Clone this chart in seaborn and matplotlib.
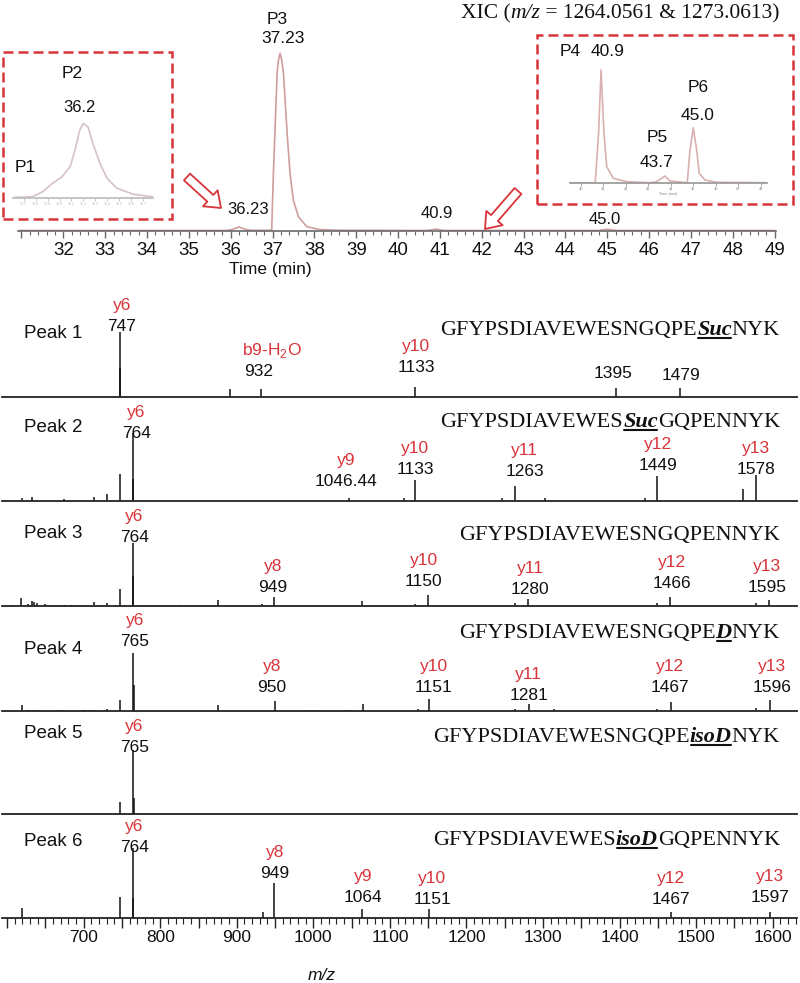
import matplotlib
matplotlib.use("Agg")
import matplotlib.pyplot as plt
import seaborn as sns
from matplotlib.patches import Rectangle, FancyArrowPatch
from matplotlib.lines import Line2D
from matplotlib.ticker import MultipleLocator, FuncFormatter

sns.set_theme(style="white")
plt.rcParams['font.family'] = ['Liberation Sans', 'DejaVu Sans']
plt.rcParams['mathtext.fontset'] = 'custom'
plt.rcParams['mathtext.rm'] = 'Liberation Sans'

# ---- data: extracted ion chromatogram (time in min, relative intensity) ----
xic_time = [30.95, 35.9, 36.05, 36.2, 36.35, 36.5, 36.9, 36.98, 37.02, 37.08, 37.11, 37.14,
            37.18, 37.22, 37.26, 37.31, 37.36, 37.42, 37.50, 37.62, 37.82, 38.13, 38.6,
            40.7, 40.9, 41.1, 44.8, 45.0, 45.2, 49.0]
xic_int = [0.3, 0.3, 0.9, 2.3, 0.9, 0.4, 0.4, 0.6, 32, 70, 89, 96,
           100, 96, 89, 70, 51, 32, 17, 8, 2.4, 0.8, 0.4,
           0.3, 1.1, 0.3, 0.3, 1.0, 0.3, 0.3]

# zoomed trace P1/P2
zoom1_time = [35.62, 35.77, 35.86, 35.93, 36.02, 36.09, 36.13, 36.17, 36.20, 36.24,
              36.28, 36.34, 36.40, 36.48, 36.62, 36.78]
zoom1_int = [0.5, 1.3, 8, 18, 28, 42, 64, 91, 100, 95, 73, 46, 26, 13, 4.6, 1.3]

# zoomed trace P4/P5/P6
zoom2_time = [39.55, 40.64, 40.79, 40.9, 41.03, 41.15, 41.44, 42.04, 43.07, 43.37, 43.74,
              43.96, 44.73, 44.85, 45.0, 45.15, 45.26, 45.52, 46.04, 48.25]
zoom2_int = [0.5, 0.5, 44, 100, 44, 14.7, 4.4, 1.4, 0.5, 1.4, 6.4,
             2.0, 0.5, 29, 49, 29, 8.8, 2.9, 0.9, 0.5]

# ---- data: MS/MS spectra (m/z, intensity) ----
peak1_mz = [747, 747.6, 891, 932, 1133, 1395, 1479]
peak1_int = [65, 29, 8, 8, 10, 9, 9]

peak2_mz = [619, 633, 674, 714, 731, 748, 764, 764.6, 1046, 1118, 1133, 1246, 1263,
            1303, 1433, 1449, 1561, 1578]
peak2_int = [3, 4, 2, 4, 7, 27, 68, 22, 3, 3, 21, 3, 15, 3, 3, 25, 12, 26]

peak3_mz = [606, 618, 627, 632, 635.5, 638.6, 649.5, 667, 675.6, 684, 695, 714, 731, 748,
            764, 764.6, 782, 826, 852, 876, 898, 932.5, 949, 985, 1026, 1064, 1133, 1150,
            1263, 1280, 1449, 1466, 1578, 1595]
peak3_int = [1.5, 8, 2, 5, 4, 3, 2, 1.5, 1.5, 1.5, 1.5, 4, 3, 17,
             63, 30, 1.5, 1, 1, 6, 1, 2, 9, 1, 1, 5, 2, 11,
             3, 7, 3, 9, 3, 6]

peak4_mz = [620, 627, 640, 667, 700, 714, 731, 748, 765, 765.6, 876, 950, 998, 1048, 1065,
            1137, 1151, 1263, 1281, 1314, 1449, 1467, 1578, 1596]
peak4_int = [6, 1.5, 1, 1, 1, 1.5, 2, 11, 58, 26, 6, 10, 1, 1, 7,
             2, 12, 2, 7, 2, 2, 9, 3, 11]

peak5_mz = [748, 765, 765.6]
peak5_int = [12, 64, 16]

peak6_mz = [620, 748, 764, 764.6, 934, 949, 1064, 1151, 1467, 1597]
peak6_int = [10, 21, 70, 20, 6, 35, 9, 9, 6, 6]

# annotated fragments: (m/z position, ion name, m/z text)
ions1 = [(750, "y6", "747"), (928, "b9-H$_2$O", "932"), (1134, "y10", "1133"),
         (1391, "", "1395"), (1480, "", "1479")]
ions2 = [(769, "y6", "764"), (1043, "y9", "1046.44"), (1133, "y10", "1133"),
         (1276, "y11", "1263"), (1450, "y12", "1449"), (1578, "y13", "1578")]
ions3 = [(766, "y6", "764"), (947, "y8", "949"), (1144, "y10", "1150"),
         (1283, "y11", "1280"), (1468, "y12", "1466"), (1593, "y13", "1595")]
ions4 = [(767, "y6", "765"), (946, "y8", "950"), (1157, "y10", "1151"),
         (1281, "y11", "1281"), (1466, "y12", "1467"), (1599, "y13", "1596")]
ions5 = [(766, "y6", "765")]
ions6 = [(766, "y6", "764"), (950, "y8", "949"), (1065, "y9", "1064"),
         (1155, "y10", "1151"), (1467, "y12", "1467"), (1596, "y13", "1597")]

panel_names = ["Peak 1", "Peak 2", "Peak 3", "Peak 4", "Peak 5", "Peak 6"]
sequences = [
    [("GFYPSDIAVEWESNGQPE", 0), ("Suc", 1), ("NYK", 0)],
    [("GFYPSDIAVEWES", 0), ("Suc", 1), ("GQPENNYK", 0)],
    [("GFYPSDIAVEWESNGQPENNYK", 0)],
    [("GFYPSDIAVEWESNGQPE", 0), ("D", 1), ("NYK", 0)],
    [("GFYPSDIAVEWESNGQPE", 0), ("isoD", 1), ("NYK", 0)],
    [("GFYPSDIAVEWES", 0), ("isoD", 1), ("GQPENNYK", 0)],
]
mz_ticks = [700, 800, 900, 1000, 1100, 1200, 1300, 1400, 1500, 1600]

# ---- layout (pixels) ----
W, H = 800, 983
RED = "#d8343a"
TRACE = "#cf9e9e"
baselines = [397, 501, 606, 711, 814, 918]
label_h = [[71, 25, 29, 23, 21], [67, 20, 31, 29, 36, 31], [68, 19, 24, 17, 22, 18],
           [70, 23, 23, 16, 23, 24], [67], [70, 45, 20, 18, 18, 20]]
name_h = [64, 74, 73, 61, 81, 76]
seq_h = [62, 74, 66, 73, 72, 73]

fig = plt.figure(figsize=(W / 100, H / 100), dpi=100)
fig.patch.set_facecolor("white")


def fx(x):
    return x / W


def fy(y):
    return 1 - y / H


def add_ax(left, right, top, bottom):
    ax = fig.add_axes([fx(left), fy(bottom), (right - left) / W, (bottom - top) / H])
    ax.set_facecolor("none")
    for s in ["top", "right", "left"]:
        ax.spines[s].set_visible(False)
    ax.set_yticks([])
    return ax


def ftext(x, y, s, **kw):
    kw.setdefault("ha", "center")
    kw.setdefault("va", "center")
    fig.text(fx(x), fy(y), s, **kw)


def rich_text(parts, x_right, y_base, size, family="Liberation Serif"):
    renderer = fig.canvas.get_renderer()
    items = []
    for s, mod in parts:
        t = fig.text(0, 0, s, fontsize=size, family=family, color="#111111",
                     weight="bold" if mod == 1 else "normal",
                     style="italic" if mod in (1, 2) else "normal",
                     ha="left", va="baseline")
        items.append((t, t.get_window_extent(renderer).width, mod))
    x = x_right - sum(w for _, w, _ in items)
    for t, w, mod in items:
        t.set_position((fx(x), fy(y_base)))
        if mod == 1:
            fig.add_artist(Line2D([fx(x + 1), fx(x + w - 1)], [fy(y_base + 2.5)] * 2,
                                  transform=fig.transFigure, color="#111111", lw=1.5))
        x += w


# ---- chromatogram ----
ax0 = add_ax(18, 776, 20, 231)
sns.lineplot(x=xic_time, y=xic_int, ax=ax0, color=TRACE, lw=1.2)
ax0.set_xlim(30.918, 49.03)
ax0.set_ylim(0, 118.7)
ax0.spines["bottom"].set_color("#6a6a6a")
ax0.spines["bottom"].set_linewidth(1.2)
ax0.xaxis.set_major_locator(MultipleLocator(1))
ax0.xaxis.set_minor_locator(MultipleLocator(0.2))
ax0.xaxis.set_major_formatter(FuncFormatter(lambda v, p: "" if v < 31.5 else f"{v:.0f}"))
ax0.tick_params(axis="x", which="major", bottom=True, length=5, width=1, color="#6a6a6a",
                labelsize=13.5, pad=3, labelcolor="#111111")
ax0.tick_params(axis="x", which="minor", bottom=True, length=3, width=0.8, color="#6a6a6a")
ax0.set_xlabel("")
ax0.set_ylabel("")
ftext(270, 270, "Time (min)", fontsize=12.5, color="#111111")

ftext(276.7, 20, "P3", fontsize=12.5, color="#111111")
ftext(283.3, 38.5, "37.23", fontsize=12.5, color="#111111")
ftext(248.3, 210, "36.23", fontsize=12, color="#111111")
ftext(436.7, 213, "40.9", fontsize=12, color="#111111")
ftext(605, 219, "45.0", fontsize=12, color="#111111")

rich_text([("XIC (", 0), ("m/z", 2), (" = 1264.0561 & 1273.0613)", 0)], 780, 18.5, 15.5)

# ---- zoom insets ----
ax1 = add_ax(13, 152.7, 110, 197.7)
sns.lineplot(x=zoom1_time, y=zoom1_int, ax=ax1, color="#d6c3c3", lw=1.2)
ax1.set_xlim(35.609, 36.783)
ax1.set_ylim(0, 117.9)
ax1.spines["bottom"].set_color("#bdbdbd")
ax1.xaxis.set_major_locator(MultipleLocator(0.1))
ax1.tick_params(axis="x", bottom=True, length=2, width=0.6, color="#bdbdbd",
                labelsize=2.5, labelcolor="#bbbbbb", pad=1)
ax1.set_xlabel("")
ax1.set_ylabel("")
ftext(71.7, 73, "P2", fontsize=12.5, color="#111111")
ftext(80, 107, "36.2", fontsize=12, color="#111111")
ftext(25, 167, "P1", fontsize=12.5, color="#111111")

ax2 = add_ax(570, 766.7, 60, 183.3)
sns.lineplot(x=zoom2_time, y=zoom2_int, ax=ax2, color="#dab0b0", lw=1.2)
ax2.set_xlim(39.52, 48.26)
ax2.set_ylim(0, 108.8)
ax2.spines["bottom"].set_color("#9a9a9a")
ax2.xaxis.set_major_locator(MultipleLocator(1))
ax2.tick_params(axis="x", bottom=True, length=2, width=0.6, color="#9a9a9a",
                labelsize=2.8, labelcolor="#888888", pad=1)
ax2.set_xlabel("Time (min)", fontsize=2.8, color="#888888", labelpad=0.5)
ax2.set_ylabel("")
ftext(570, 52, "P4", fontsize=12.5, color="#111111")
ftext(608, 52, "40.9", fontsize=12.5, color="#111111")
ftext(698, 87, "P6", fontsize=12.5, color="#111111")
ftext(698, 115, "45.0", fontsize=12.5, color="#111111")
ftext(657, 138, "P5", fontsize=12.5, color="#111111")
ftext(657, 163, "43.7", fontsize=12.5, color="#111111")

for (x0, y0, x1, y1) in [(3, 52, 172, 219), (537, 35, 793, 204)]:
    fig.add_artist(Rectangle((fx(x0), fy(y1)), (x1 - x0) / W, (y1 - y0) / H,
                             transform=fig.transFigure, fill=False, ec=RED, lw=1.8,
                             ls=(0, (4, 2))))

for (xa, ya, xb, yb) in [(187, 177, 221, 208), (518, 191, 485, 229)]:
    fig.add_artist(FancyArrowPatch((fx(xa), fy(ya)), (fx(xb), fy(yb)),
                                   transform=fig.transFigure,
                                   arrowstyle="simple,head_length=0.8,head_width=1.2,tail_width=0.5",
                                   mutation_scale=13, fc="white", ec=RED, lw=1.3,
                                   shrinkA=0, shrinkB=0))

# ---- MS/MS spectra ----
spectra = [(peak1_mz, peak1_int, ions1), (peak2_mz, peak2_int, ions2),
           (peak3_mz, peak3_int, ions3), (peak4_mz, peak4_int, ions4),
           (peak5_mz, peak5_int, ions5), (peak6_mz, peak6_int, ions6)]

for i, (mz, inten, ions) in enumerate(spectra):
    yb = baselines[i]
    ax = add_ax(2, 797, yb - 104, yb)
    ax.vlines(mz, 0, inten, color="#111111", lw=1.1)
    ax.set_xlim(593.3, 1631.7)
    ax.set_ylim(0, 104)
    ax.spines["bottom"].set_color("#222222")
    ax.spines["bottom"].set_linewidth(1.3)
    for (x, ion, num), h in zip(ions, label_h[i]):
        ax.text(x, h, num, fontsize=12.5, color="#111111", ha="center", va="center",
                clip_on=False)
        if ion:
            dx = 18 if ion.startswith("b") else 0
            ax.text(x + dx, h + 21, ion, fontsize=12.5, color=RED, ha="center",
                    va="center", clip_on=False)
    ftext(24, yb - name_h[i], panel_names[i], fontsize=13.5, color="#111111", ha="left")
    rich_text(sequences[i], 780, yb - seq_h[i], 16)
    if i < 5:
        ax.set_xticks([])
    else:
        ax.xaxis.set_major_locator(MultipleLocator(50))
        ax.xaxis.set_minor_locator(MultipleLocator(10))
        ax.xaxis.set_major_formatter(
            FuncFormatter(lambda v, p: f"{v:.0f}" if round(v) in mz_ticks else ""))
        ax.tick_params(axis="x", which="major", bottom=True, length=7, width=1,
                       color="#222222", labelsize=12.5, pad=1.5, labelcolor="#111111")
        ax.tick_params(axis="x", which="minor", bottom=True, length=4, width=0.8,
                       color="#222222")

fig.text(fx(322), fy(975), "m/z", fontsize=12.5, style="italic", ha="center",
         va="center", color="#111111")

fig.savefig("out.png", dpi=100)
